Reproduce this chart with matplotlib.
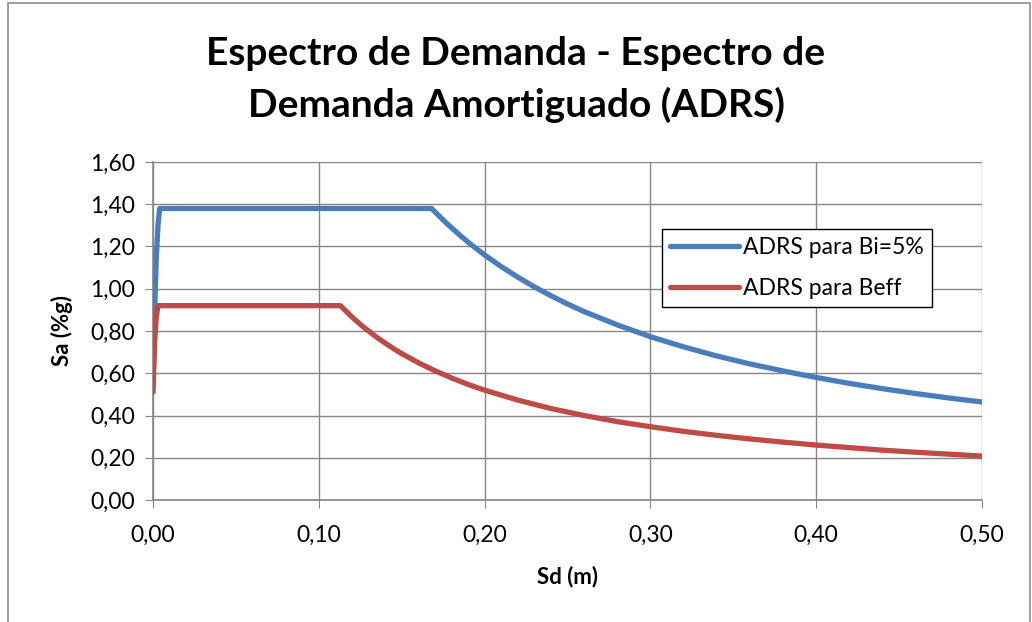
import matplotlib
matplotlib.use("Agg")
import matplotlib.pyplot as plt
from matplotlib.patches import Rectangle
from matplotlib.ticker import FuncFormatter

# ADRS para Bi=5%
sd_bi = [0.000, 0.001, 0.002, 0.003, 0.004, 0.02, 0.05, 0.10, 0.15, 0.168,
         0.172, 0.176, 0.18, 0.185, 0.19, 0.195, 0.20, 0.21, 0.22, 0.23, 0.24,
         0.25, 0.26, 0.28, 0.30, 0.32, 0.34, 0.36, 0.38, 0.40, 0.42, 0.44,
         0.46, 0.48, 0.50]
sa_bi = [0.55, 0.90, 1.15, 1.30, 1.38, 1.38, 1.38, 1.38, 1.38, 1.38,
         1.349, 1.318, 1.289, 1.254, 1.221, 1.190, 1.160, 1.105, 1.055, 1.009, 0.967,
         0.928, 0.892, 0.829, 0.773, 0.725, 0.682, 0.644, 0.611, 0.580, 0.552, 0.527,
         0.504, 0.483, 0.464]

# ADRS para Beff
sd_eff = [0.000, 0.001, 0.002, 0.003, 0.02, 0.05, 0.08, 0.10, 0.113,
          0.116, 0.119, 0.122, 0.126, 0.13, 0.135, 0.14, 0.145, 0.15, 0.16,
          0.17, 0.18, 0.19, 0.20, 0.22, 0.24, 0.26, 0.28, 0.30, 0.32, 0.34,
          0.36, 0.38, 0.40, 0.42, 0.44, 0.46, 0.48, 0.50]
sa_eff = [0.51, 0.75, 0.87, 0.92, 0.92, 0.92, 0.92, 0.92, 0.92,
          0.897, 0.874, 0.852, 0.825, 0.800, 0.770, 0.743, 0.717, 0.693, 0.650,
          0.612, 0.578, 0.547, 0.520, 0.473, 0.433, 0.400, 0.371, 0.347, 0.325, 0.306,
          0.289, 0.274, 0.260, 0.248, 0.236, 0.226, 0.217, 0.208]

x_ticks = [0.0, 0.1, 0.2, 0.3, 0.4, 0.5]
y_ticks = [0.0, 0.2, 0.4, 0.6, 0.8, 1.0, 1.2, 1.4, 1.6]

plt.rcParams['font.family'] = ['Lato', 'DejaVu Sans']
grid_c = '#868686'

fig = plt.figure(figsize=(10.32, 6.22), dpi=100)
# outer chart border
fig.patches.append(Rectangle((8 / 1032, -0.05), 1022 / 1032, 1.05 - 3 / 622,
                             transform=fig.transFigure, fill=False,
                             edgecolor='#8c8c8c', linewidth=1.2))
ax = fig.add_axes([153 / 1032, 122 / 622, 829 / 1032, 338 / 622])

ax.plot(sd_bi, sa_bi, color='#4A7EBB', linewidth=3.8, label='ADRS para Bi=5%',
        solid_capstyle='round', solid_joinstyle='round', zorder=3)
ax.plot(sd_eff, sa_eff, color='#BE4B48', linewidth=3.8, label='ADRS para Beff',
        solid_capstyle='round', solid_joinstyle='round', zorder=4)

ax.set_xlim(0, 0.5)
ax.set_ylim(0, 1.6)
ax.set_xticks(x_ticks)
ax.set_yticks(y_ticks)
fmt = FuncFormatter(lambda v, p: f"{v:.2f}".replace('.', ','))
ax.xaxis.set_major_formatter(fmt)
ax.yaxis.set_major_formatter(fmt)
ax.tick_params(axis='both', direction='out', length=6, color=grid_c,
               labelsize=16.5, pad=7)
ax.tick_params(axis='x', pad=12)

ax.grid(True, color=grid_c, linewidth=1.0)
ax.set_axisbelow(True)
for s in ['top', 'right']:
    ax.spines[s].set_visible(False)
for s in ['left', 'bottom']:
    ax.spines[s].set_color(grid_c)
    ax.spines[s].set_linewidth(1.2)

ax.set_xlabel('Sd (m)', fontsize=16, fontweight='bold', labelpad=14)
ax.set_ylabel('Sa (%g)', fontsize=16, fontweight='bold', labelpad=12)

fig.text(0.5, 0.872, 'Espectro de Demanda - Espectro de\nDemanda Amortiguado (ADRS)',
         ha='center', va='center', fontsize=28, fontweight='bold', linespacing=1.5)

leg = ax.legend(loc='upper left', bbox_to_anchor=(0.6, 0.835), fontsize=16.5,
                frameon=True, fancybox=False, handlelength=3.0, handletextpad=0.2,
                borderpad=0.35, labelspacing=0.85, framealpha=1)
leg.get_frame().set_edgecolor('black')
leg.get_frame().set_linewidth(1.0)

fig.savefig('out.png', dpi=100)
